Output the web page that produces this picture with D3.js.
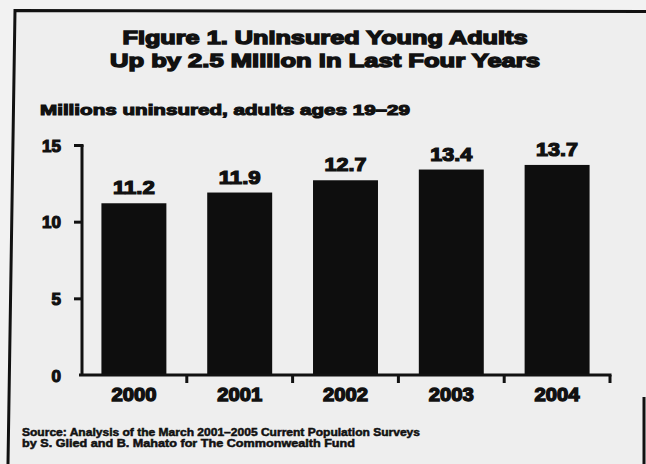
<!DOCTYPE html>
<html>
<head>
<meta charset="utf-8">
<script src="https://cdn.jsdelivr.net/npm/d3@7"></script>
<style>
  html, body { margin: 0; padding: 0; background: #f1f1f1; }
  svg { display: block; }
  text { font-family: "Liberation Sans", Arial, sans-serif; font-weight: bold; fill: #111; }
</style>
</head>
<body>
<svg id="chart" width="646" height="464"></svg>
<script>
// ---- data ----
const years = ["2000", "2001", "2002", "2003", "2004"];
const uninsured = [11.2, 11.9, 12.7, 13.4, 13.7];
const valueLabels = ["11.2", "11.9", "12.7", "13.4", "13.7"];
const yTicks = [0, 5, 10, 15];
const titleLines = ["Figure 1. Uninsured Young Adults", "Up by 2.5 Million in Last Four Years"];
const subtitle = "Millions uninsured, adults ages 19\u201329";
const sourceLines = [
  "Source: Analysis of the March 2001\u20132005 Current Population Surveys",
  "by S. Glied and B. Mahato for The Commonwealth Fund"
];

const svg = d3.select("#chart");
const ink = "#111";

// background
svg.append("rect").attr("width", 646).attr("height", 464).attr("fill", "#f2f2f2");
svg.append("path")
  .attr("d", "M15,10 L646,11 L646,464 L8,464 Z")
  .attr("fill", "#eeeeee");

// frame (scanned, slightly skewed)
svg.append("path")
  .attr("d", "M8,464 L15,10.5 L646,11.5")
  .attr("fill", "none").attr("stroke", ink).attr("stroke-width", 3);
svg.append("line")
  .attr("x1", 644).attr("y1", 397).attr("x2", 644).attr("y2", 464)
  .attr("stroke", ink).attr("stroke-width", 3);

// scales
const x = d3.scaleBand().domain(years).range([81, 610]).paddingInner(0.386).paddingOuter(0.193);
const y = d3.scaleLinear().domain([0, 15]).range([375, 145]);

// title
svg.selectAll("text.title").data(titleLines).join("text")
  .attr("class", "title")
  .attr("x", 325).attr("y", (d, i) => 44 + i * 23)
  .attr("text-anchor", "middle")
  .attr("font-size", 19)
  .attr("textLength", (d, i) => i === 0 ? 405 : 430)
  .attr("lengthAdjust", "spacingAndGlyphs")
  .attr("stroke", ink).attr("stroke-width", 1.4)
  .text(d => d);

// subtitle
svg.append("text")
  .attr("x", 40).attr("y", 115)
  .attr("font-size", 15)
  .attr("textLength", 370).attr("lengthAdjust", "spacingAndGlyphs")
  .attr("stroke", ink).attr("stroke-width", 1.1)
  .text(subtitle);

// bars
svg.selectAll("rect.bar").data(uninsured).join("rect")
  .attr("class", "bar")
  .attr("x", (d, i) => x(years[i]))
  .attr("y", d => y(d))
  .attr("width", x.bandwidth())
  .attr("height", d => y(0) - y(d))
  .attr("fill", "#0e0e0e");

// value labels
svg.selectAll("text.val").data(uninsured).join("text")
  .attr("class", "val")
  .attr("x", (d, i) => x(years[i]) + x.bandwidth() / 2)
  .attr("y", d => y(d) - 9)
  .attr("text-anchor", "middle")
  .attr("font-size", 18)
  .attr("textLength", 42).attr("lengthAdjust", "spacingAndGlyphs")
  .attr("stroke", ink).attr("stroke-width", 1.2)
  .text((d, i) => valueLabels[i]);

// y axis
const yAxis = svg.append("g")
  .attr("transform", "translate(82,0)")
  .call(d3.axisLeft(y).tickValues(yTicks).tickSize(8).tickSizeOuter(0).tickPadding(13).tickFormat(d3.format("d")));
yAxis.select(".domain").attr("stroke", ink).attr("stroke-width", 3).attr("d", `M0,${y(15)}V${y(0)}`);
yAxis.selectAll(".tick line").attr("stroke", ink).attr("stroke-width", 3)
  .filter(d => d === 0).remove();
yAxis.selectAll(".tick text")
  .attr("font-size", 17).attr("font-family", "Liberation Sans, Arial, sans-serif")
  .attr("font-weight", "bold").attr("fill", ink)
  .attr("stroke", ink).attr("stroke-width", 1.2)
  .attr("dy", "0.36em");
yAxis.selectAll(".tick").filter(d => d === 15).select("line").attr("x1", 1.5);

// x axis
const xAxis = svg.append("g")
  .attr("transform", `translate(0,${y(0)})`)
  .call(d3.axisBottom(x).tickSize(0).tickPadding(13).tickSizeOuter(0));
xAxis.select(".domain").attr("stroke", ink).attr("stroke-width", 3)
  .attr("d", `M79,0H${x.range()[1] + 1.5}`);
xAxis.selectAll(".tick text")
  .attr("font-size", 19).attr("font-family", "Liberation Sans, Arial, sans-serif")
  .attr("font-weight", "bold").attr("fill", ink)
  .attr("textLength", 45).attr("lengthAdjust", "spacingAndGlyphs")
  .attr("stroke", ink).attr("stroke-width", 1.4);

// boundary ticks between categories (pointing down)
const gap = x.step() - x.bandwidth();
const bounds = years.slice(1).map(d => x(d) - gap / 2).concat([x.range()[1]]);
xAxis.selectAll("line.bound").data(bounds).join("line")
  .attr("class", "bound")
  .attr("x1", d => d).attr("x2", d => d)
  .attr("y1", 0).attr("y2", 8)
  .attr("stroke", ink).attr("stroke-width", 3);

// source note
svg.selectAll("text.src").data(sourceLines).join("text")
  .attr("class", "src")
  .attr("x", 22).attr("y", (d, i) => 436 + i * 11)
  .attr("font-size", 10.5)
  .attr("textLength", (d, i) => i === 0 ? 398 : 333)
  .attr("lengthAdjust", "spacingAndGlyphs")
  .attr("stroke", ink).attr("stroke-width", 0.5)
  .text(d => d);
</script>
</body>
</html>
